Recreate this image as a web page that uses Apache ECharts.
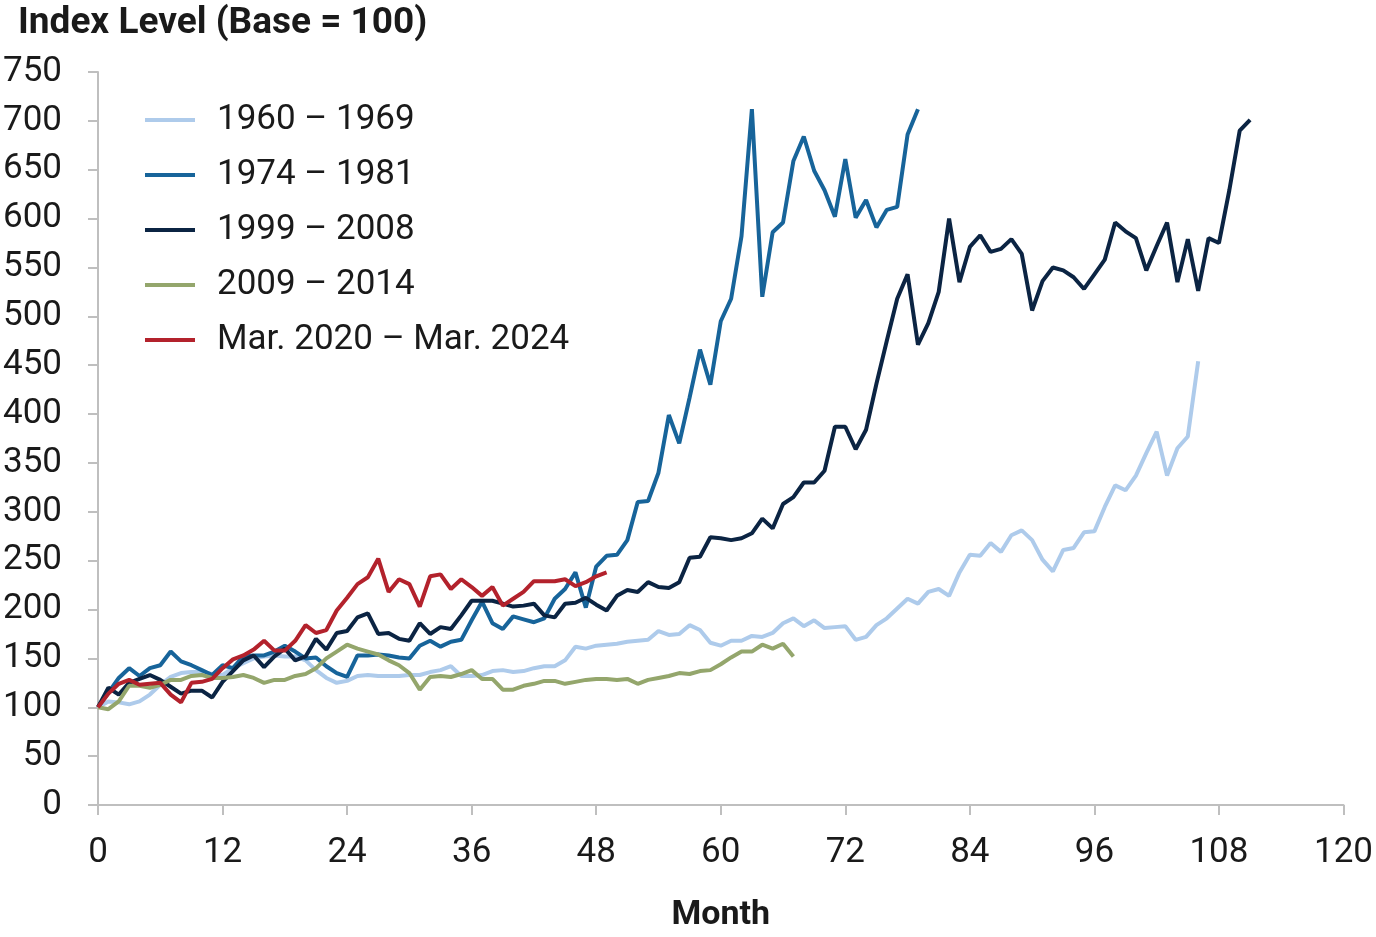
<!DOCTYPE html>
<html>
<head>
<meta charset="utf-8">
<script src="https://cdn.jsdelivr.net/npm/echarts@6/dist/echarts.min.js"></script>
<style>
  html, body { margin: 0; padding: 0; background: #fff; }
  #chart { width: 1376px; height: 937px; }
</style>
</head>
<body>
<div id="chart"></div>
<script>
// index level by month since start of each period (base = 100)
var s1960 = [100, 106, 105, 103, 106, 113, 123, 131, 135, 136, 136, 134, 133, 140, 145, 150, 152, 153, 152, 152,
  148, 138, 130, 125, 127, 132, 133, 132, 132, 132, 133, 133, 136, 138, 142, 132, 132, 133, 137, 138,
  136, 137, 140, 142, 142, 148, 162, 160, 163, 164, 165, 167, 168, 169, 178, 174, 175, 184, 179, 166,
  163, 168, 168, 173, 172, 176, 186, 191, 183, 189, 181, 182, 183, 169, 172, 184, 191, 201, 211, 206,
  218, 221, 214, 238, 256, 255, 268, 259, 276, 281, 271, 251, 239, 261, 263, 279, 280, 305, 327, 322,
  337, 360, 382, 337, 365, 377, 454];
var s1974 = [100, 115, 130, 140, 132, 140, 143, 157, 147, 143, 138, 133, 143, 140, 152, 153, 153, 157, 163, 157,
  150, 151, 142, 135, 131, 153, 153, 154, 153, 151, 150, 163, 168, 162, 167, 169, 189, 208, 186, 180,
  193, 190, 187, 191, 211, 221, 238, 202, 244, 255, 256, 271, 310, 311, 340, 399, 370, 417, 466, 430,
  495, 518, 582, 712, 520, 586, 596, 659, 684, 649, 629, 602, 661, 601, 619, 591, 609, 612, 686, 712];
var s1999 = [100, 120, 113, 125, 129, 133, 128, 121, 114, 117, 117, 110, 126, 137, 148, 153, 141, 152, 160, 148,
  152, 170, 159, 176, 178, 192, 196, 175, 176, 170, 168, 186, 175, 182, 180, 194, 209, 209, 209, 206,
  203, 204, 206, 194, 192, 206, 207, 212, 205, 199, 214, 220, 218, 228, 223, 222, 228, 253, 254, 274,
  273, 271, 273, 278, 293, 283, 308, 315, 330, 330, 342, 387, 387, 364, 384, 431, 475, 518, 543, 471,
  493, 525, 600, 535, 571, 583, 566, 569, 579, 564, 506, 536, 550, 547, 540, 528, 543, 558, 596, 587,
  580, 547, 572, 596, 535, 579, 526, 580, 575, 629, 690, 701];
var s2009 = [100, 98, 106, 122, 122, 120, 123, 128, 128, 132, 133, 130, 130, 131, 133, 130, 125, 128, 128, 132,
  134, 140, 150, 157, 164, 160, 157, 154, 148, 143, 135, 118, 131, 132, 131, 134, 138, 129, 129, 118,
  118, 122, 124, 127, 127, 124, 126, 128, 129, 129, 128, 129, 124, 128, 130, 132, 135, 134, 137, 138,
  144, 151, 157, 157, 164, 160, 165, 152];
var s2020 = [100, 114, 124, 128, 123, 124, 125, 113, 105, 125, 126, 129, 140, 149, 153, 159, 168, 158, 158, 168,
  184, 176, 179, 199, 212, 226, 233, 252, 218, 231, 226, 203, 234, 236, 221, 231, 223, 214, 223, 204,
  211, 218, 229, 229, 229, 231, 224, 228, 234, 238];

var names = ['1960 – 1969', '1974 – 1981', '1999 – 2008', '2009 – 2014', 'Mar. 2020 – Mar. 2024'];
var colors = ['#aecbeb', '#17649a', '#0b2443', '#94a66c', '#b3222c'];

function pairs(arr) {
  return arr.map(function (v, i) { return [i, v]; });
}

var chart = echarts.init(document.getElementById('chart'));
var fontFam = 'Roboto, "Noto Sans", sans-serif';

var series = [s1960, s1974, s1999, s2009, s2020].map(function (arr, k) {
  return {
    name: names[k],
    type: 'line',
    data: pairs(arr),
    symbol: 'none',
    clip: false,
    lineStyle: { color: colors[k], width: 4 },
    itemStyle: { color: colors[k] },
    z: 2 + k
  };
});

chart.setOption({
  animation: false,
  backgroundColor: '#fff',
  textStyle: { fontFamily: fontFam },
  title: {
    text: 'Index Level (Base = 100)',
    left: 13,
    top: 0,
    textStyle: { fontFamily: fontFam, fontSize: 37, fontWeight: 'bold', color: '#1a1a1a' }
  },
  legend: {
    orient: 'vertical',
    left: 145,
    top: 100,
    padding: 0,
    icon: 'rect',
    itemWidth: 50,
    itemHeight: 4,
    itemGap: 15,
    data: names,
    textStyle: { fontFamily: fontFam, fontSize: 35, color: '#1a1a1a', lineHeight: 40, padding: [0, 0, 0, 17] }
  },
  grid: { left: 98, right: 24, top: 72, bottom: 96, containLabel: false },
  xAxis: {
    type: 'value',
    min: 0,
    max: 120,
    interval: 12,
    name: 'Month',
    nameLocation: 'middle',
    nameGap: 93,
    nameTextStyle: { fontFamily: fontFam, fontSize: 34, fontWeight: 'bold', color: '#1a1a1a' },
    axisLine: { show: true, lineStyle: { color: '#bfbfbf', width: 2 } },
    axisTick: { show: true, length: 10, lineStyle: { color: '#bfbfbf', width: 2 } },
    axisLabel: { margin: 31, fontSize: 35, color: '#1a1a1a', fontFamily: fontFam },
    splitLine: { show: false }
  },
  yAxis: {
    type: 'value',
    min: 0,
    max: 750,
    interval: 50,
    axisLine: { show: true, lineStyle: { color: '#bfbfbf', width: 2 } },
    axisTick: { show: true, length: 10, lineStyle: { color: '#bfbfbf', width: 2 } },
    axisLabel: { margin: 36, fontSize: 35, color: '#1a1a1a', fontFamily: fontFam },
    splitLine: { show: false }
  },
  series: series
});
</script>
</body>
</html>
